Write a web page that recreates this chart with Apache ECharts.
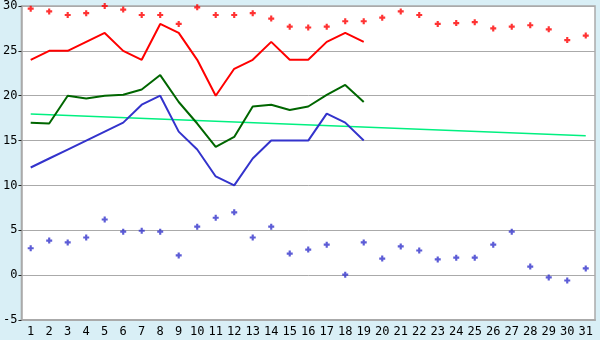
<!DOCTYPE html>
<html><head><meta charset="utf-8">
<script src="https://cdn.jsdelivr.net/npm/echarts@6/dist/echarts.min.js"></script>
<style>html,body{margin:0;padding:0;background:#d9eff6;}#c{width:600px;height:340px;}</style>
</head><body><div id="c"></div>
<script>
var days = ['1','2','3','4','5','6','7','8','9','10','11','12','13','14','15','16','17','18','19','20','21','22','23','24','25','26','27','28','29','30','31'];
var redDots = [29.7,29.4,29.0,29.2,30.0,29.6,29.0,29.0,28.0,29.85,29.0,29.0,29.2,28.6,27.7,27.6,27.7,28.3,28.3,28.7,29.4,29.0,28.0,28.1,28.2,27.5,27.7,27.85,27.4,26.2,26.7];
var blueDots = [3.0,3.85,3.65,4.2,6.2,4.85,4.95,4.85,2.2,5.4,6.4,7.0,4.2,5.4,2.4,2.85,3.4,0.05,3.65,1.85,3.2,2.75,1.75,1.95,1.95,3.4,4.85,0.95,-0.25,-0.6,0.75];
var redLine = [24,25,25,26,27,25,24,28,27,24,20,23,24,26,24,24,26,27,26];
var greenLine = [17,16.9,20,19.7,20,20.1,20.7,22.3,19.3,16.9,14.3,15.4,18.8,19.0,18.4,18.8,20.1,21.2,19.3];
var blueLine = [12,13,14,15,16,17,19,20,16,14,11,10,13,15,15,15,18,17,15];
var trendDays = ['1','31'];
var trendValues = [17.95,15.55];
var yTicks = {min:-5, max:30, step:5};

var plus = 'path://M1.6,0H3.4V1.6H5V3.4H3.4V5H1.6V3.4H0V1.6H1.6Z';
var font = 'DejaVu Sans Mono';
var chart = echarts.init(document.getElementById('c'));
chart.setOption({
  backgroundColor:'#d9eff6',
  animation:false,
  grid:{left:21,right:5,top:5,bottom:20,show:true,backgroundColor:'#ffffff',borderColor:'#aaaaaa',borderWidth:1.5},
  xAxis:{type:'category',data:days,boundaryGap:true,
    axisLine:{onZero:false,lineStyle:{color:'#aaaaaa',width:2}},
    axisTick:{alignWithLabel:true,length:5,lineStyle:{color:'#222'}},
    axisLabel:{color:'#000',fontFamily:font,fontSize:12,margin:6,interval:0},
    splitLine:{show:false}},
  yAxis:{type:'value',min:yTicks.min,max:yTicks.max,interval:yTicks.step,
    axisLine:{show:true,lineStyle:{color:'#aaaaaa',width:1.5}},
    axisTick:{show:true,length:3,lineStyle:{color:'#222'}},
    axisLabel:{color:'#000',fontFamily:font,fontSize:12,margin:4},
    splitLine:{lineStyle:{color:'#aaaaaa',width:1}}},
  series:[
    {type:'line',data:trendDays.map(function(d,i){return [d,trendValues[i]];}),showSymbol:false,lineStyle:{color:'#00f080',width:1.5},z:2},
    {type:'line',data:redLine,showSymbol:false,lineStyle:{color:'#ff0000',width:2},z:3},
    {type:'line',data:greenLine,showSymbol:false,lineStyle:{color:'#006600',width:2},z:3},
    {type:'line',data:blueLine,showSymbol:false,lineStyle:{color:'#3333cc',width:2},z:3},
    {type:'scatter',data:redDots,symbol:plus,symbolSize:6,itemStyle:{color:'#ff0000'},z:4},
    {type:'scatter',data:blueDots,symbol:plus,symbolSize:6,itemStyle:{color:'#3333cc'},z:4}
  ]
});
</script></body></html>
